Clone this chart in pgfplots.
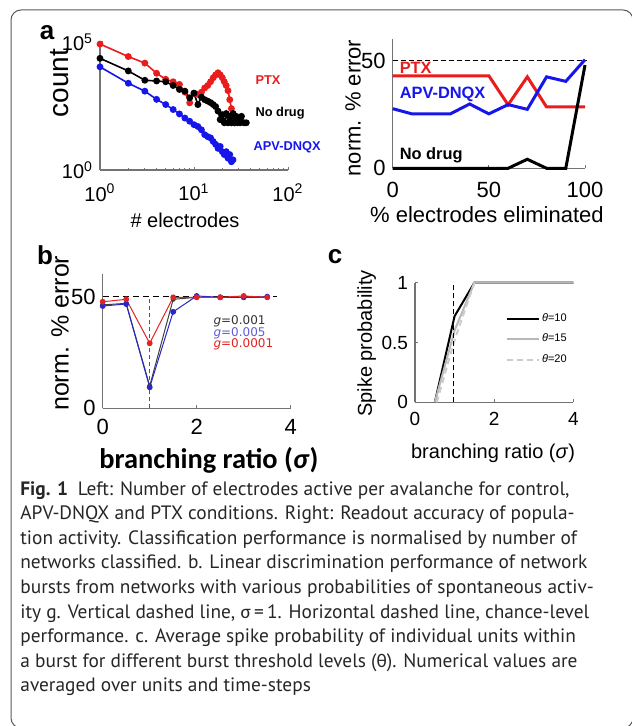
\documentclass[border=0pt]{standalone}
\usepackage{fontspec}
\setmainfont{Liberation Sans}
\newfontfamily\capfont{PT Sans}
\newfontfamily\calfont{Carlito}
\newfontfamily\djv{DejaVu Sans}
\usepackage{pgfplots}
\pgfplotsset{compat=1.18}

\definecolor{axgray}{gray}{0.45}
\definecolor{myred}{RGB}{235,28,28}
\definecolor{myblue}{RGB}{22,22,235}
\definecolor{bblue}{RGB}{40,40,200}
\definecolor{bred}{RGB}{225,35,35}
\definecolor{lgray}{gray}{0.72}
\definecolor{llgray}{gray}{0.80}
\definecolor{captext}{gray}{0.15}

\newcommand{\fs}[1]{\fontsize{#1}{#1}\selectfont}

\pgfplotsset{
  base/.style={
    scale only axis,
    anchor=south west,
    axis x line*=bottom,
    axis y line*=left,
    axis line style={axgray, line width=0.6pt},
    tick style={axgray, line width=0.5pt},
    tick align=inside,
    major tick length=1.6pt,
    minor tick length=1pt,
    /pgf/number format/assume math mode=true,
    every tick label/.append style={black},
    clip=false,
  },
}

\begin{document}
\begin{tikzpicture}
\useasboundingbox (0,0) rectangle (315.5pt,-363pt);
\draw[gray!70!black, line width=0.5pt, rounded corners=5pt] (5.5pt,-5pt) rectangle (316.5pt,-364pt);

% panel labels
\node[font=\fs{13}\bfseries] at (23.5pt,-16.5pt) {a};
\node[font=\fs{13}\bfseries] at (22.5pt,-127.5pt) {b};
\node[font=\fs{13}\bfseries] at (167.5pt,-128.5pt) {c};

% ---- a, left: electrodes per avalanche
\begin{axis}[base,
  at={(50pt,-85pt)}, width=94pt, height=64pt,
  xmode=log, ymode=log,
  xmin=1, xmax=100, ymin=1, ymax=1e5,
  xtick={1,10,100},
  xticklabels={10\textsuperscript{0},10\textsuperscript{1},10\textsuperscript{2}},
  ytick={1,1e5},
  yticklabels={10\textsuperscript{0},10\textsuperscript{5}},
  yminorticks=false,
  ticklabel style={font=\fs{10}},
  xticklabel style={yshift=-3.5pt},
  xlabel={\# electrodes}, ylabel={count},
  xlabel style={font=\fs{10}, at={(rel axis cs:0.452,-0.39)}, anchor=center},
  ylabel style={font=\fs{14}, at={(rel axis cs:-0.213,0.68)}, anchor=center},
]
\addplot[myred, line width=0.8pt, mark=*, mark size=1.3pt] coordinates {
  (1,83000) (2,27000) (3,15000) (4,6000) (5,3500) (6,2800) (7,2200)
  (8,1100) (9,420) (10,1000) (11,900) (12,1100) (13,1600) (14,2000)
  (15,2800) (16,4000) (17,5200) (18,6300) (19,5200) (20,4000) (21,2800)
  (22,2000) (23,1260) (24,560) (25,250) (26,160)
};
\addplot[black, line width=0.8pt, mark=*, mark size=1.3pt] coordinates {
  (1,23000) (2,7400) (3,3200) (4,3000) (5,2800) (6,2000) (7,1400)
  (8,1200) (9,660) (10,1000) (11,360) (12,700) (13,560) (14,490)
  (15,430) (16,360) (17,300) (18,200) (19,93) (20,145) (21,70)
  (22,160) (23,70) (24,125) (25,70) (26,160) (27,70) (28,125)
  (29,70) (30,100) (31,70) (32,125) (34,70) (36,70)
};
\addplot[myblue, line width=0.8pt, mark=*, mark size=1.3pt] coordinates {
  (1,10700) (2,2450) (3,1200) (4,575) (5,360) (6,230) (7,155)
  (8,107) (9,80) (10,59) (11,50) (12,37) (13,24) (14,20) (15,18)
  (16,13) (17,10) (18,7) (19,8.3) (20,5.2) (21,4) (22,5.2) (23,2.9)
  (24,4) (25,2.1) (26,2.5)
};
\node[myred, font=\fs{6.4}\bfseries, anchor=west] at (rel axis cs:0.79,0.70) {PTX};
\node[black, font=\fs{6.4}\bfseries, anchor=west] at (rel axis cs:0.79,0.44) {No drug};
\node[myblue, font=\fs{6.4}\bfseries, anchor=west] at (rel axis cs:0.78,0.18) {APV-DNQX};
\end{axis}

% ---- a, right: readout accuracy
\begin{axis}[base,
  at={(196.35pt,-84.15pt)}, width=96.15pt, height=64.55pt,
  xmin=0, xmax=100, ymin=0, ymax=60,
  xtick={0,50,100}, ytick={0,50},
  ticklabel style={font=\fs{11}},
  xticklabel style={yshift=-3.5pt},
  xlabel={\% electrodes eliminated}, ylabel={norm. \% error},
  xlabel style={font=\fs{11}, at={(rel axis cs:0.49,-0.362)}, anchor=center},
  ylabel style={font=\fs{11}, at={(rel axis cs:-0.206,0.467)}, anchor=center},
]
\addplot[black, line width=0.6pt, dash pattern=on 2.5pt off 1.5pt] coordinates {(0,50) (101,50)};
\addplot[myred, line width=1.5pt] coordinates {
  (0,43) (10,43) (20,43) (30,43) (40,43) (50,43) (60,29.5) (70,42.5)
  (80,28.5) (90,28.5) (100,28.5)
};
\addplot[myblue, line width=1.5pt] coordinates {
  (0,27.7) (10,25.3) (20,25.3) (30,25.3) (40,29.9) (50,25.3) (60,29.6)
  (70,27.4) (80,42.5) (90,40.4) (100,50.5)
};
\addplot[black, line width=1.5pt] coordinates {
  (0,0) (10,0) (20,0) (30,0) (40,0) (50,0) (60,0) (70,4.2) (80,0)
  (90,0) (100,48)
};
\node[myred, font=\fs{8.2}\bfseries, anchor=west] at (axis cs:0,46.6) {PTX};
\node[myblue, font=\fs{8.2}\bfseries, anchor=west] at (axis cs:0,34.5) {APV-DNQX};
\node[black, font=\fs{8.2}\bfseries, anchor=west] at (axis cs:0,6.2) {No drug};
\end{axis}

% ---- b: discrimination vs branching ratio
\begin{axis}[base,
  at={(51.35pt,-204.15pt)}, width=94pt, height=67pt,
  xmin=0, xmax=4, ymin=0, ymax=60,
  xtick={0,2,4}, ytick={0,50},
  ticklabel style={font=\fs{11}},
  xticklabel style={yshift=-2pt},
  xlabel={\calfont\bfseries branching ratio (\textit{σ})}, ylabel={norm. \% error},
  xlabel style={font=\fs{14.2}, at={(rel axis cs:0.565,-0.386)}, anchor=center},
  ylabel style={font=\fs{12.5}, at={(rel axis cs:-0.227,0.56)}, anchor=center},
]
\addplot[black, line width=0.8pt, dash pattern=on 3pt off 2pt] coordinates {(0,50) (3.7,50)};
\addplot[gray!70!black, line width=0.5pt, dash pattern=on 2pt off 1.5pt] coordinates {(1,0) (1,50)};
\addplot[black!75, line width=0.5pt, mark=*, mark size=1pt] coordinates {
  (0,46.3) (0.5,47) (1,10) (1.5,48.8) (2,49.7) (2.5,49.7) (3,49.7) (3.5,49.7)
};
\addplot[bblue, line width=0.5pt, mark=*, mark size=1.2pt] coordinates {
  (0,45.8) (0.5,46.7) (1,9.4) (1.5,43.2) (2,50.3) (2.5,49.7) (3,49.7) (3.5,50)
};
\addplot[bred, line width=0.5pt, mark=*, mark size=1.2pt] coordinates {
  (0,47.7) (0.5,48.8) (1,29.1) (1.5,49.7) (2,49.7) (2.5,49.7) (3,50.3) (3.5,49.7)
};
\node[anchor=north west, inner sep=0pt, align=left, font=\djv\fontsize{6}{5.8}\selectfont]
  at (axis cs:2.35,41.6) {%
  {\color{black!80}\textit{g}=0.001}\\
  {\color{bblue!75}\textit{g}=0.005}\\
  {\color{bred}\textit{g}=0.0001}};
\end{axis}

% ---- c: spike probability
\begin{axis}[base,
  at={(207.5pt,-201.15pt)}, width=79.15pt, height=59.8pt,
  xmin=0, xmax=4, ymin=0, ymax=1,
  xtick={0,2,4}, ytick={0,0.5,1},
  ticklabel style={font=\fs{9.5}},
  xticklabel style={yshift=-1.5pt},
  xlabel={branching ratio (\textit{σ})}, ylabel={Spike probability},
  xlabel style={font=\fs{10}, at={(rel axis cs:0.493,-0.43)}, anchor=center},
  ylabel style={font=\fs{10}, at={(rel axis cs:-0.305,0.493)}, anchor=center},
  legend style={at={(axis cs:2.3,0.76)}, anchor=north west, draw=none, fill=none,
    font=\fs{5.5}, row sep=3.2pt, inner sep=0pt,
    nodes={inner sep=0.8pt}},
  legend cell align=left,
  legend image code/.code={\draw[#1] (0pt,0pt) -- (16pt,0pt);},
]
\addplot[black, line width=1pt] coordinates {
  (0.5,0) (1,0.72) (1.5,1) (2,1) (2.5,1) (3,1) (3.5,1) (4,1)
};
\addplot[lgray, line width=1pt] coordinates {
  (0.5,0) (1,0.6) (1.5,1) (2,1) (2.5,1) (3,1) (3.5,1) (4,1)
};
\addplot[llgray, line width=1pt, dash pattern=on 3pt off 2pt] coordinates {
  (0.55,0) (1,0.52) (1.5,1)
};
\addplot[black, line width=0.7pt, dash pattern=on 2.5pt off 1.5pt, forget plot] coordinates {(0.97,0) (0.97,1)};
\legend{\textit{θ}=10, \textit{θ}=15, \textit{θ}=20}
\end{axis}

% caption
\node[anchor=north west, inner sep=0pt, align=left, text=captext,
  font=\capfont\fontsize{9.68}{12.3}\selectfont] at (10pt,-240.5pt) {%
  {\bfseries Fig. 1}\enspace Left: Number of electrodes active per avalanche for control,\\
  APV-DNQX and PTX conditions. Right: Readout accuracy of popula-\\
  tion activity. Classification performance is normalised by number of\\
  networks classified. b. Linear discrimination performance of network\\
  bursts from networks with various probabilities of spontaneous activ-\\
  ity g. Vertical dashed line, {\calfont σ}\,=\,1. Horizontal dashed line, chance-level\\
  performance. c. Average spike probability of individual units within\\
  a burst for different burst threshold levels ({\calfont θ}). Numerical values are\\
  averaged over units and time-steps};
\end{tikzpicture}
\end{document}
